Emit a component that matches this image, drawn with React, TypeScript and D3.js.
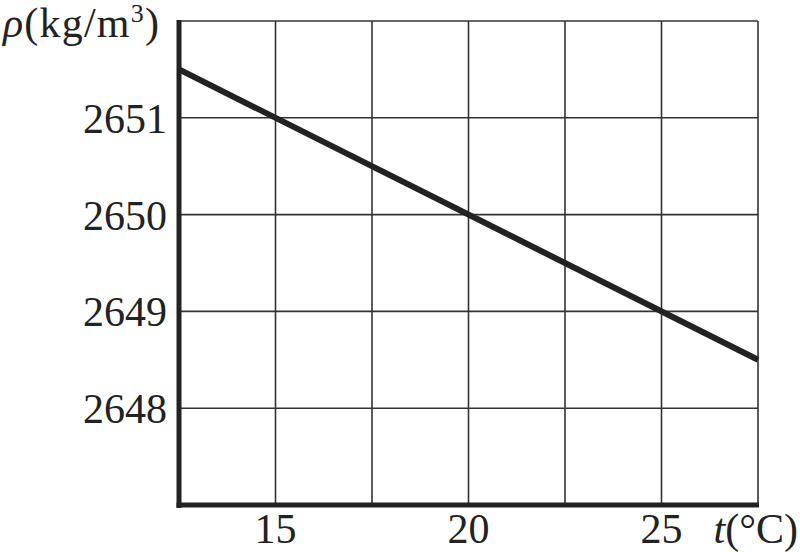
import React from 'react';
import * as d3 from 'd3';

const temps = [12.5, 27.5];
const density = [2651.5, 2648.5];
const xTicks = [15, 20, 25];
const xGrid = [15, 17.5, 20, 22.5, 25, 27.5];
const yTicks = [2648, 2649, 2650, 2651];
const yGrid = [2648, 2649, 2650, 2651, 2652];

const W = 800;
const H = 552;
const left = 179;
const right = 758;
const top = 21;
const bottom = 505;
const font = '"Liberation Serif", serif';

const App = () => {
  const x = d3.scaleLinear().domain([12.5, 27.5]).range([left, right]);
  const y = d3.scaleLinear().domain([2647, 2652]).range([bottom, top]);

  const pts: [number, number][] = temps.map((t, i) => [t, density[i]]);
  const line = d3.line<[number, number]>()
    .x(d => x(d[0]))
    .y(d => y(d[1]));

  return (
    <svg width={W} height={H} style={{ position: 'absolute', left: 0, top: 0, background: '#fff' }}>
      {/* grid */}
      {xGrid.map(v => (
        <line key={'gx' + v} x1={x(v)} x2={x(v)} y1={top} y2={bottom} stroke="#333" strokeWidth={1.6} />
      ))}
      {yGrid.map(v => (
        <line key={'gy' + v} x1={left} x2={right} y1={y(v)} y2={y(v)} stroke="#333" strokeWidth={1.6} />
      ))}
      {/* data line */}
      <path d={line(pts) || ''} fill="none" stroke="#222" strokeWidth={6} />
      {/* axes */}
      <line x1={left} x2={left} y1={top - 1} y2={bottom + 3} stroke="#222" strokeWidth={5} />
      <line x1={left - 2.5} x2={right + 1} y1={bottom} y2={bottom} stroke="#222" strokeWidth={5} />
      {/* tick labels */}
      {yTicks.map(v => (
        <text key={'ty' + v} x={167} y={y(v) + 15} textAnchor="end" fontFamily={font} fontSize={42} fill="#222">
          {v}
        </text>
      ))}
      {xTicks.map(v => (
        <text key={'tx' + v} x={x(v)} y={543} textAnchor="middle" fontFamily={font} fontSize={42} fill="#222">
          {v}
        </text>
      ))}
      {/* axis titles */}
      <text x={798} y={543} textAnchor="end" fontFamily={font} fontSize={42} fill="#222">
        <tspan fontStyle="italic">t</tspan>
        <tspan>(°C)</tspan>
      </text>
      <text x={3} y={37} fontFamily={font} fontSize={42} letterSpacing={1.2} fill="#222">
        <tspan fontStyle="italic">ρ</tspan>
        <tspan>(kg/m</tspan>
        <tspan fontSize={26} dy={-15}>3</tspan>
        <tspan dy={15}>)</tspan>
      </text>
    </svg>
  );
};

export default App;
